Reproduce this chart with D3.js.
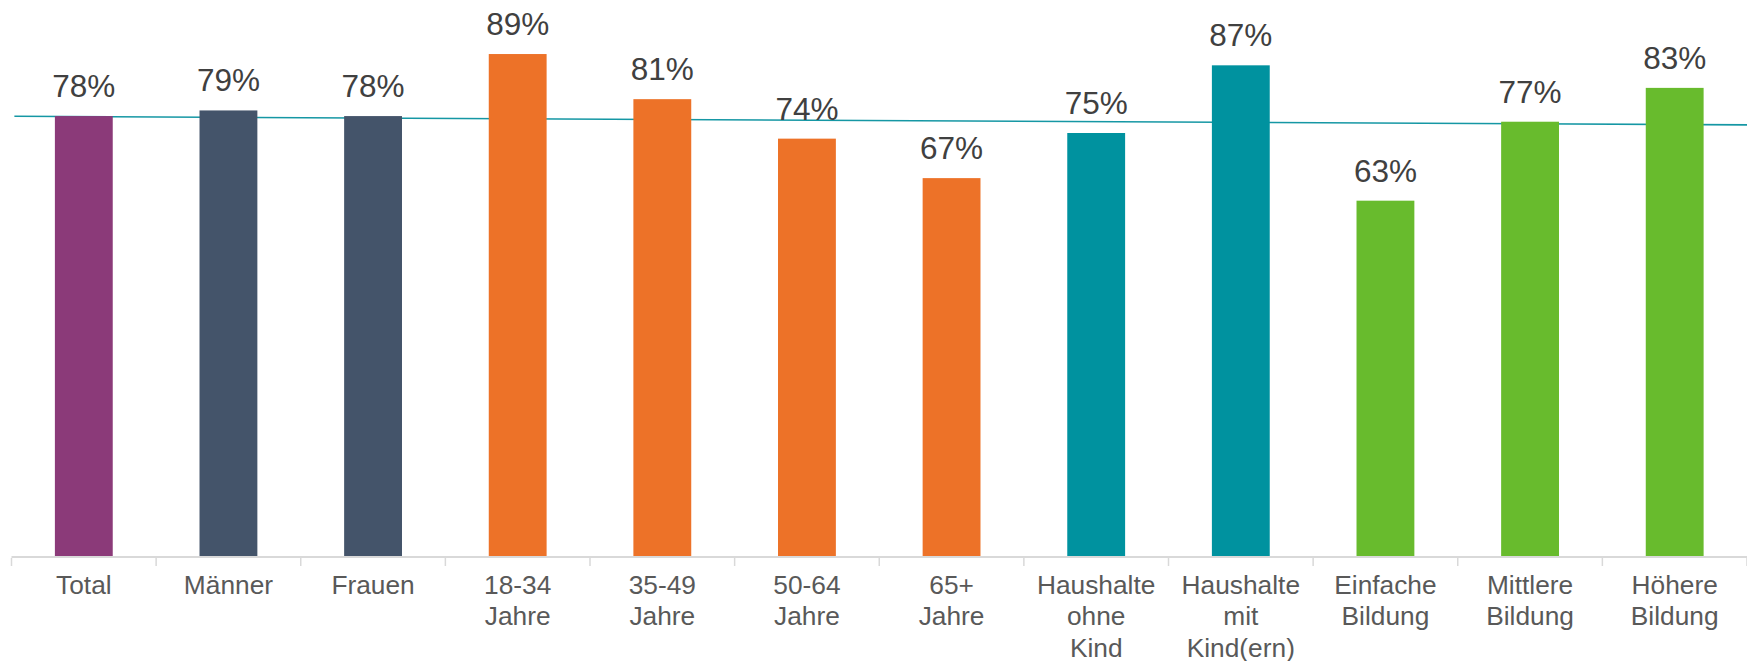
<!DOCTYPE html>
<html>
<head>
<meta charset="utf-8">
<script src="https://cdn.jsdelivr.net/npm/d3@7/dist/d3.min.js"></script>
<style>
  html, body { margin: 0; padding: 0; background: #fff; }
  svg { display: block; font-family: "Liberation Sans", Arial, sans-serif; }
</style>
</head>
<body>
<div id="main"></div>
<script>
// Data
const categories = ['Total', 'Männer', 'Frauen', '18-34\nJahre', '35-49\nJahre', '50-64\nJahre', '65+\nJahre',
  'Haushalte\nohne\nKind', 'Haushalte\nmit\nKind(ern)', 'Einfache\nBildung', 'Mittlere\nBildung', 'Höhere\nBildung'];
const values = [78, 79, 78, 89, 81, 74, 67, 75, 87, 63, 77, 83];
const groups = ['total', 'sex', 'sex', 'age', 'age', 'age', 'age', 'household', 'household', 'edu', 'edu', 'edu'];
// trend line value at first and last category
const trendEnds = [77.9, 76.5];

const groupColors = {
  total: '#8b3a79',
  sex: '#44546a',
  age: '#ed7228',
  household: '#00929f',
  edu: '#68bb2d'
};

// Dimensions
const w = 1747;
const h = 661;
const left = 11.5;
const base = 556;

const svg = d3.select('#main')
  .append('svg')
  .attr('width', w)
  .attr('height', h);

// Scales
const xScale = d3.scaleBand()
  .domain(categories)
  .range([left, w])
  .paddingInner(0.6)
  .paddingOuter(0.3);

const yScale = d3.scaleLinear()
  .domain([0, 100])
  .range([base, base - 564]);

const step = xScale.step();
const center = (d) => xScale(d) + xScale.bandwidth() / 2;

// Trend line (behind the bars)
const idxScale = d3.scaleLinear()
  .domain([0, categories.length - 1])
  .range(trendEnds);
const trendPts = [-0.48, categories.length - 0.5].map((i) => [left + step * (i + 0.5), yScale(idxScale(i))]);

svg.append('path')
  .attr('d', d3.line()(trendPts))
  .attr('fill', 'none')
  .attr('stroke', '#1597a4')
  .attr('stroke-width', 1.6);

// Bars
svg.selectAll('rect.bar')
  .data(values)
  .enter()
  .append('rect')
  .attr('class', 'bar')
  .attr('x', (d, i) => xScale(categories[i]))
  .attr('y', (d) => yScale(d))
  .attr('width', xScale.bandwidth())
  .attr('height', (d) => yScale(0) - yScale(d))
  .attr('fill', (d, i) => groupColors[groups[i]]);

// Value labels
svg.selectAll('text.val')
  .data(values)
  .enter()
  .append('text')
  .attr('class', 'val')
  .attr('x', (d, i) => center(categories[i]))
  .attr('y', (d) => yScale(d) - 19)
  .attr('text-anchor', 'middle')
  .style('font-size', '31.5px')
  .style('fill', '#404040')
  .text((d) => d + '%');

// X axis
const xAxis = d3.axisBottom(xScale).tickSize(0).tickFormat('');
const gx = svg.append('g')
  .attr('transform', `translate(0, ${base + 1})`)
  .call(xAxis);
gx.select('.domain').remove();

svg.append('line')
  .attr('x1', left)
  .attr('x2', w)
  .attr('y1', base + 1)
  .attr('y2', base + 1)
  .attr('stroke', '#d9d9d9')
  .attr('stroke-width', 2);

// boundary ticks
svg.selectAll('line.tick')
  .data(d3.range(categories.length + 1))
  .enter()
  .append('line')
  .attr('class', 'tick')
  .attr('x1', (i) => left + i * step)
  .attr('x2', (i) => left + i * step)
  .attr('y1', base + 2)
  .attr('y2', base + 10)
  .attr('stroke', '#d9d9d9')
  .attr('stroke-width', 1.5);

// tick labels, multi-line
gx.selectAll('.tick text').remove();
gx.selectAll('.tick').each(function (d) {
  const t = d3.select(this).append('text')
    .attr('text-anchor', 'middle')
    .style('font-size', '26.3px')
    .style('fill', '#595959');
  d.split('\n').forEach((line, j) => {
    t.append('tspan')
      .attr('x', 0)
      .attr('y', 36.5 + j * 31.7)
      .text(line);
  });
});
</script>
</body>
</html>
